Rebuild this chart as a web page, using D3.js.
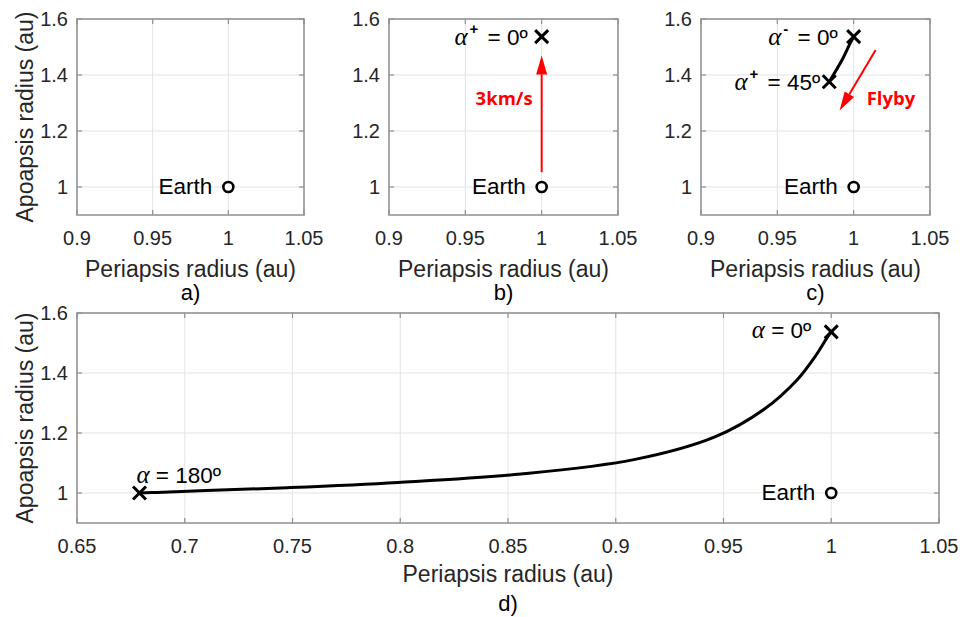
<!DOCTYPE html>
<html><head><meta charset="utf-8">
<script src="https://cdn.jsdelivr.net/npm/d3@7"></script>
<style>body{margin:0;background:#fff} svg{display:block}</style>
</head><body><svg id="chart" width="960" height="617"></svg>
<script>
// ---------- data ----------
const panelNames = ["a)", "b)", "c)", "d)"];
const xTicksSmall = [0.9, 0.95, 1, 1.05];
const xTicksWide = [0.65, 0.7, 0.75, 0.8, 0.85, 0.9, 0.95, 1, 1.05];
const yTicks = [1, 1.2, 1.4, 1.6];
const xLabel = "Periapsis radius (au)";
const yLabel = "Apoapsis radius (au)";
const earthPeri = 1.0;
const earthApo = 1.0;
// flyby turn angle alpha (deg) and resulting periapsis / apoapsis (au)
const flybyAlpha = [0, 15, 30, 45, 60, 75, 90, 105, 120, 135, 150, 165, 180];
const periapsis = [1.000, 0.998, 0.993, 0.984, 0.969, 0.946, 0.909, 0.856, 0.799, 0.749, 0.710, 0.687, 0.679];
const apoapsis  = [1.537, 1.517, 1.460, 1.376, 1.280, 1.187, 1.112, 1.063, 1.035, 1.018, 1.008, 1.002, 1.000];
// red arrows
const burnArrowPeri = [1.0, 1.0];
const burnArrowApo = [1.053, 1.47];
const burnLabel = "3km/s";
const flybyArrowPeri = [1.0144, 0.9908];
const flybyArrowApo = [1.489, 1.273];
const flybyLabel = "Flyby";

// ---------- layout ----------
const svg = d3.select("#chart");
const SANS = "'Liberation Sans', Arial, Helvetica, sans-serif";
const SERIF = "'Liberation Serif', 'Times New Roman', serif";
const BOX = "#8f8f8f", GRID = "#e3e3e3", TXT = "#262626";

const panels = [
  {name: panelNames[0], l: 77,  r: 304, t: 19,  b: 215, xd: [0.9, 1.05], xt: xTicksSmall, ylab: true,  xlabY: 277, nameY: 300},
  {name: panelNames[1], l: 389, r: 618, t: 19,  b: 215, xd: [0.9, 1.05], xt: xTicksSmall, ylab: false, xlabY: 277, nameY: 300},
  {name: panelNames[2], l: 701, r: 930, t: 19,  b: 215, xd: [0.9, 1.05], xt: xTicksSmall, ylab: false, xlabY: 277, nameY: 300},
  {name: panelNames[3], l: 77,  r: 939, t: 313, b: 523, xd: [0.65, 1.05], xt: xTicksWide, ylab: true,  xlabY: 582, nameY: 611}
];

function makeAxes(p) {
  const x = d3.scaleLinear().domain(p.xd).range([p.l, p.r]);
  const y = d3.scaleLinear().domain([0.9, 1.6]).range([p.b, p.t]);
  const g = svg.append("g");
  // grid
  g.selectAll(".gx").data(p.xt).join("line")
    .attr("x1", d => x(d)).attr("x2", d => x(d)).attr("y1", p.t).attr("y2", p.b)
    .attr("stroke", GRID).attr("stroke-width", 1);
  g.selectAll(".gy").data(yTicks).join("line")
    .attr("y1", d => y(d)).attr("y2", d => y(d)).attr("x1", p.l).attr("x2", p.r)
    .attr("stroke", GRID).attr("stroke-width", 1);
  // box
  g.append("rect").attr("x", p.l).attr("y", p.t).attr("width", p.r - p.l).attr("height", p.b - p.t)
    .attr("fill", "none").attr("stroke", BOX).attr("stroke-width", 1.5);
  // inward ticks on all four sides
  const tl = 5;
  p.xt.forEach(d => {
    g.append("line").attr("x1", x(d)).attr("x2", x(d)).attr("y1", p.b).attr("y2", p.b - tl).attr("stroke", BOX).attr("stroke-width", 1.2);
    g.append("line").attr("x1", x(d)).attr("x2", x(d)).attr("y1", p.t).attr("y2", p.t + tl).attr("stroke", BOX).attr("stroke-width", 1.2);
  });
  yTicks.forEach(d => {
    g.append("line").attr("y1", y(d)).attr("y2", y(d)).attr("x1", p.l).attr("x2", p.l + tl).attr("stroke", BOX).attr("stroke-width", 1.2);
    g.append("line").attr("y1", y(d)).attr("y2", y(d)).attr("x1", p.r).attr("x2", p.r - tl).attr("stroke", BOX).attr("stroke-width", 1.2);
  });
  const fmt = d3.format("~g");
  g.selectAll(".tx").data(p.xt).join("text")
    .attr("x", d => x(d)).attr("y", p.b + 30).attr("text-anchor", "middle")
    .attr("font-family", SANS).attr("font-size", 20).attr("fill", TXT).text(d => fmt(d));
  g.selectAll(".ty").data(yTicks).join("text")
    .attr("x", p.l - 9).attr("y", d => y(d) + 7).attr("text-anchor", "end")
    .attr("font-family", SANS).attr("font-size", 20).attr("fill", TXT).text(d => fmt(d));
  // labels
  g.append("text").attr("x", (p.l + p.r) / 2).attr("y", p.xlabY).attr("text-anchor", "middle")
    .attr("font-family", SANS).attr("font-size", 23).attr("fill", TXT).text(xLabel);
  if (p.ylab) {
    g.append("text").attr("transform", `translate(33,${(p.t + p.b) / 2}) rotate(-90)`).attr("text-anchor", "middle")
      .attr("font-family", SANS).attr("font-size", 23).attr("fill", TXT).text(yLabel);
  }
  g.append("text").attr("x", (p.l + p.r) / 2).attr("y", p.nameY).attr("text-anchor", "middle")
    .attr("font-family", SANS).attr("font-size", 22).attr("fill", "#000").text(p.name);
  return {x, y, g};
}

function earth(ax) {
  const cx = ax.x(earthPeri), cy = ax.y(earthApo);
  ax.g.append("circle").attr("cx", cx).attr("cy", cy).attr("r", 5)
    .attr("fill", "#fff").attr("stroke", "#000").attr("stroke-width", 2.6);
  ax.g.append("text").attr("x", cx - 16).attr("y", cy + 7).attr("text-anchor", "end")
    .attr("font-family", SANS).attr("font-size", 22.5).attr("fill", "#000").text("Earth");
}

function cross(ax, px, py) {
  const cx = ax.x(px), cy = ax.y(py), s = 6.5;
  ax.g.append("path").attr("d", `M${cx - s},${cy - s}L${cx + s},${cy + s}M${cx - s},${cy + s}L${cx + s},${cy - s}`)
    .attr("stroke", "#000").attr("stroke-width", 3).attr("fill", "none");
}

function alphaLabel(ax, x, y, sup, rest, anchor) {
  const t = ax.g.append("text").attr("x", x).attr("y", y).attr("text-anchor", anchor)
    .attr("font-family", SANS).attr("font-size", 22.5).attr("fill", "#000");
  t.append("tspan").attr("font-family", SERIF).attr("font-style", "italic").attr("font-size", 25).text("α");
  if (sup) {
    t.append("tspan").attr("dx", 2).attr("dy", -11).attr("font-size", 15).attr("font-weight", "bold").text(sup);
    t.append("tspan").attr("dx", 3).attr("dy", 11).text("\u00A0= " + rest);
  } else {
    t.append("tspan").text("\u00A0= " + rest);
  }
}

function curve(ax, n) {
  const pts = d3.range(n).map(i => [ax.x(periapsis[i]), ax.y(apoapsis[i])]);
  ax.g.append("path").attr("d", d3.line().curve(d3.curveCatmullRom.alpha(0.5))(pts))
    .attr("fill", "none").attr("stroke", "#000").attr("stroke-width", 3);
}

function redArrow(ax, xs, ys) {
  const x1 = ax.x(xs[0]), y1 = ax.y(ys[0]), x2 = ax.x(xs[1]), y2 = ax.y(ys[1]);
  const ang = Math.atan2(y2 - y1, x2 - x1), hl = 19, hw = 5.5;
  const bx = x2 - hl * Math.cos(ang), by = y2 - hl * Math.sin(ang);
  ax.g.append("line").attr("x1", x1).attr("y1", y1).attr("x2", bx).attr("y2", by)
    .attr("stroke", "#ff0000").attr("stroke-width", 2);
  const nx = -Math.sin(ang) * hw, ny = Math.cos(ang) * hw;
  ax.g.append("path").attr("d", `M${x2},${y2}L${bx + nx},${by + ny}L${bx - nx},${by - ny}Z`).attr("fill", "#ff0000");
}

// a)
const A = makeAxes(panels[0]);
earth(A);

// b)
const B = makeAxes(panels[1]);
redArrow(B, burnArrowPeri, burnArrowApo);
B.g.append("text").attr("x", B.x(1) - 9).attr("y", B.y(1.3) + 2).attr("text-anchor", "end")
  .attr("font-family", "'Open Sans', sans-serif").attr("font-weight", "bold").attr("font-size", 18.5)
  .attr("fill", "#ff0000").text(burnLabel);
earth(B);
cross(B, periapsis[0], apoapsis[0]);
alphaLabel(B, B.x(periapsis[0]) - 14, B.y(apoapsis[0]) + 8, "+", "0º", "end");

// c)
const C = makeAxes(panels[2]);
curve(C, 4);
redArrow(C, flybyArrowPeri, flybyArrowApo);
C.g.append("text").attr("x", C.x(1) + 13).attr("y", C.y(1.3) + 2).attr("text-anchor", "start")
  .attr("font-family", "'Open Sans', sans-serif").attr("font-weight", "bold").attr("font-size", 18.5)
  .attr("fill", "#ff0000").text(flybyLabel);
earth(C);
cross(C, periapsis[0], apoapsis[0]);
cross(C, periapsis[3], apoapsis[3]);
alphaLabel(C, C.x(periapsis[0]) - 16, C.y(apoapsis[0]) + 8, "-", "0º", "end");
alphaLabel(C, C.x(periapsis[3]) - 9, C.y(apoapsis[3]) + 8, "+", "45º", "end");

// d)
const D = makeAxes(panels[3]);
curve(D, flybyAlpha.length);
earth(D);
cross(D, periapsis[0], apoapsis[0]);
cross(D, periapsis[12], apoapsis[12]);
alphaLabel(D, D.x(periapsis[0]) - 20, D.y(apoapsis[0]) + 6, null, "0º", "end");
alphaLabel(D, D.x(periapsis[12]) - 3, D.y(apoapsis[12]) - 10, null, "180º", "start");
</script></body></html>
